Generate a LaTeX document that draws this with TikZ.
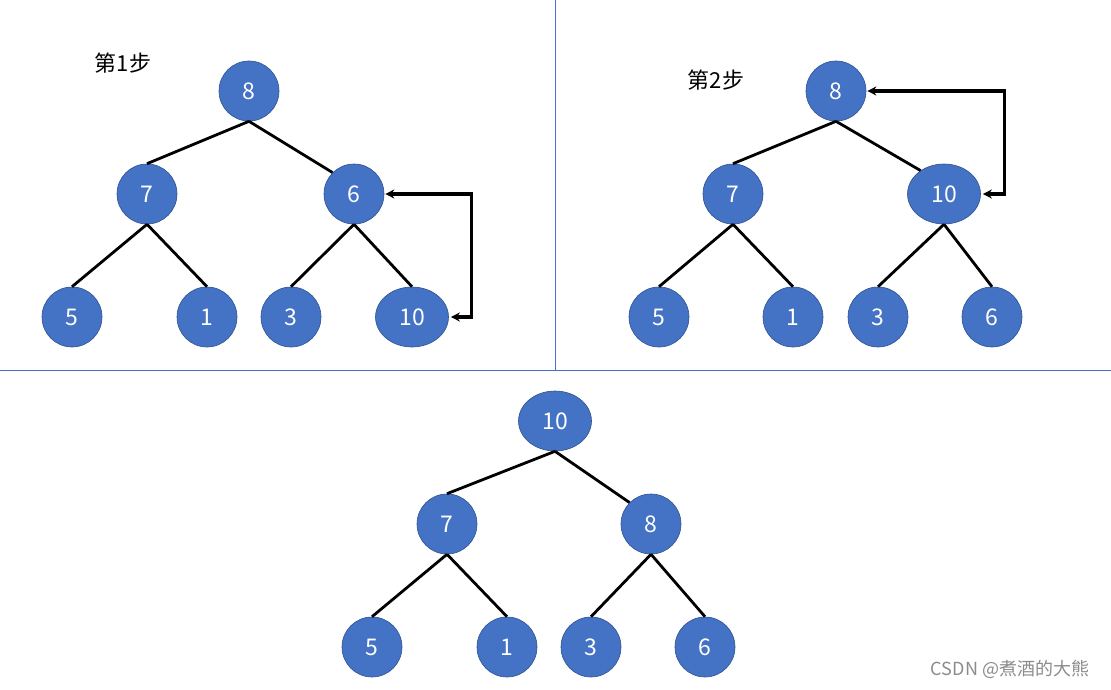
\documentclass[tikz,border=0pt]{standalone}
\usepackage{fontspec}
\setmainfont{Liberation Sans}
\newfontfamily\cjk{Noto Sans CJK SC}
\usetikzlibrary{shapes.geometric,arrows.meta}
\definecolor{nodeblue}{HTML}{4472C4}
\definecolor{nodeedge}{HTML}{2F528F}
\definecolor{divider}{HTML}{4472C4}
\tikzset{
  hn/.style={circle,fill=nodeblue,draw=nodeedge,line width=0.6pt,minimum size=60pt,inner sep=0pt,text=white,font=\cjk\fontsize{23}{23}\selectfont},
  hw/.style={ellipse,fill=nodeblue,draw=nodeedge,line width=0.6pt,minimum width=73pt,minimum height=60pt,inner sep=0pt,text=white,font=\cjk\fontsize{23}{23}\selectfont},
  edge/.style={line width=2.8pt,black},
  swaparrow/.style={line width=3.2pt,black,line join=miter,{Stealth[length=9pt,width=9pt]}-{Stealth[length=9pt,width=9pt]}},
  lbl/.style={font=\cjk\fontsize{22}{22}\selectfont,text=black},
  divline/.style={draw=divider,line width=1pt}
}
\begin{document}
\begin{tikzpicture}[x=1pt,y=-1pt]
\useasboundingbox[fill=white] (0,0) rectangle (1111,690);
% dividers
\coordinate (vt) at (555,0);
\coordinate (vb) at (555,370);
\coordinate (hl) at (0,370);
\coordinate (hr) at (1111,370);
\draw[divline] (vt) -- (vb);
\draw[divline] (hl) -- (hr);

% panel 1
\node[lbl] (s1) at (123,63) {第1步};
\node[hn] (a8) at (249,91) {8};
\node[hn] (a7) at (147,194) {7};
\node[hn] (a6) at (354,194) {6};
\node[hn] (a5) at (72,317) {5};
\node[hn] (a1) at (207,317) {1};
\node[hn] (a3) at (291,317) {3};
\node[hw] (a10) at (412,317) {10};
\draw[edge] (a8.south) -- (a7.north);
\draw[edge] (a8.south) -- (a6.135);
\draw[edge] (a7.south) -- (a5.north);
\draw[edge] (a7.south) -- (a1.north);
\draw[edge] (a6.south) -- (a3.north);
\draw[edge] (a6.south) -- (a10.north);
\coordinate (a6r) at (471.5,194);
\coordinate (a10r) at (471.5,317);
\draw[swaparrow] ([xshift=1pt]a6.east) -- (a6r) -- (a10r) -- ([xshift=2pt]a10.east);

% panel 2
\node[lbl] (s2) at (716,80) {第2步};
\node[hn] (b8) at (836,91) {8};
\node[hn] (b7) at (733,194) {7};
\node[hw] (b10) at (944,194) {10};
\node[hn] (b5) at (659,317) {5};
\node[hn] (b1) at (793,317) {1};
\node[hn] (b3) at (878,317) {3};
\node[hn] (b6) at (992,317) {6};
\draw[edge] (b8.south) -- (b7.north);
\draw[edge] (b8.south) -- (b10.135);
\draw[edge] (b7.south) -- (b5.north);
\draw[edge] (b7.south) -- (b1.north);
\draw[edge] (b10.south) -- (b3.north);
\draw[edge] (b10.south) -- (b6.north);
\coordinate (b8r) at (1004.5,91);
\coordinate (b10r) at (1004.5,194);
\draw[swaparrow] ([xshift=1pt]b8.east) -- (b8r) -- (b10r) -- ([xshift=2pt]b10.east);

% panel 3
\node[hw] (c10) at (555,421) {10};
\node[hn] (c7) at (447,524) {7};
\node[hn] (c8) at (651,524) {8};
\node[hn] (c5) at (372,647) {5};
\node[hn] (c1) at (507,647) {1};
\node[hn] (c3) at (591,647) {3};
\node[hn] (c6) at (705,647) {6};
\draw[edge] (c10.south) -- (c7.north);
\draw[edge] (c10.south) -- (c8.135);
\draw[edge] (c7.south) -- (c5.north);
\draw[edge] (c7.south) -- (c1.north);
\draw[edge] (c8.south) -- (c3.north);
\draw[edge] (c8.south) -- (c6.north);

% watermark
\node[font=\cjk\fontsize{18}{18}\selectfont,text=black!45] (wm) at (1010,669) {CSDN @煮酒的大熊};
\end{tikzpicture}
\end{document}
